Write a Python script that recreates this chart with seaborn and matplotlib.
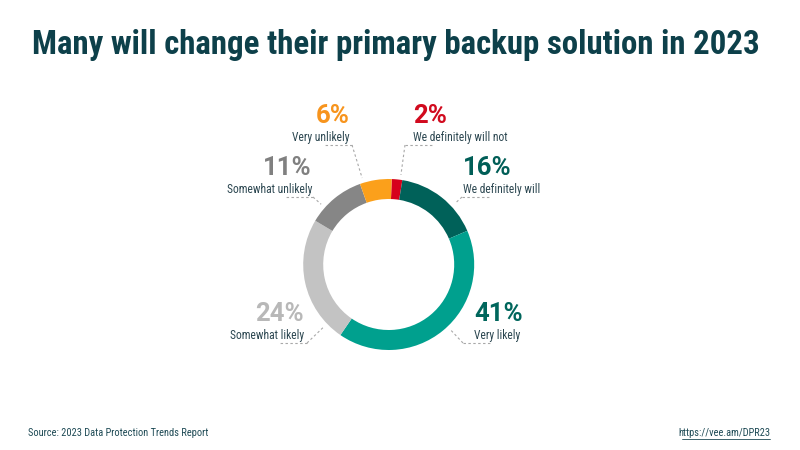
import numpy as np
import matplotlib
matplotlib.use("Agg")
import matplotlib.pyplot as plt
import seaborn as sns

# data
labels = ["We definitely will not", "We definitely will", "Very likely",
          "Somewhat likely", "Somewhat unlikely", "Very unlikely"]
values = [2, 16, 41, 24, 11, 6]
ring_colors = ["#D6001C", "#006159", "#00A08E", "#C3C3C3", "#868686", "#FBA01B"]
pct_colors = ["#D10A1E", "#005E57", "#00665C", "#B8B8B8", "#808080", "#F7941D"]

title = "Many will change their primary backup solution in 2023"
source = "Source: 2023 Data Protection Trends Report"
url = "https://vee.am/DPR23"

sns.set_theme(style="white")
plt.rcParams["font.family"] = ["Roboto Condensed", "Roboto", "DejaVu Sans"]

W, H = 800, 450
def py(y):
    # pixel row -> data y (y up)
    return H - y

fig = plt.figure(figsize=(8, 4.5), dpi=100)
ax = fig.add_axes([0, 0, 1, 1])

cx, cy, R = 388.7, py(264.5), 85.5
ax.pie(values, colors=ring_colors, startangle=88, counterclock=False,
       center=(cx, cy), radius=R, frame=True,
       wedgeprops=dict(width=20, edgecolor="none", linewidth=0))
ax.set_xlim(0, W)
ax.set_ylim(0, H)
ax.set_aspect("equal")
ax.axis("off")

# label layout: text anchor x, underline row, elbow x, side
layout = {
    "We definitely will not": (413, 145, 405, "right"),
    "We definitely will": (463, 197, 462, "right"),
    "Very likely": (474, 343, 463, "right"),
    "Somewhat likely": (304, 343, 307, "left"),
    "Somewhat unlikely": (312, 197, 313, "left"),
    "Very unlikely": (350, 145, 352, "left"),
}

line_kw = dict(color="#A8A8A8", lw=0.8, linestyle=(0, (2.2, 2.2)))
text_color = "#2B4650"
for lab, val, pc in zip(labels, values, pct_colors):
    tx, uy, ex, side = layout[lab]
    ha = "left" if side == "right" else "right"
    # underline
    ux = ex + 28 if side == "right" else ex - 28
    ax.plot([ex, ux], [py(uy), py(uy)], **line_kw)
    # radial leader toward the ring
    dx, dy = ex - cx, py(uy) - cy
    d = np.hypot(dx, dy)
    r_end = R + 5
    ax.plot([ex, cx + dx / d * r_end], [py(uy), cy + dy / d * r_end], **line_kw)
    ax.text(tx, py(uy - 4), lab, ha=ha, va="baseline", fontsize=8.3,
            color=text_color)
    ax.text(tx, py(uy - 22), f"{val}%", ha=ha, va="baseline", fontsize=18.5,
            fontweight="bold", color=pc, family=["Roboto", "DejaVu Sans"])

fig.text(32 / W, 1 - 54 / H, title, ha="left", va="baseline", fontsize=23.7,
         fontweight="bold", color="#0D404A")
fig.text(28 / W, 1 - 436 / H, source, ha="left", va="baseline", fontsize=7.5,
         color="#1E4A55")
fig.text(770 / W, 1 - 436 / H, url, ha="right", va="baseline", fontsize=7.5,
         color="#1E4A55")
# underline of the url
ax.plot([682, 770], [py(439), py(439)], color="#1E4A55", lw=0.6)

fig.savefig("out.png", dpi=100, facecolor="white")
